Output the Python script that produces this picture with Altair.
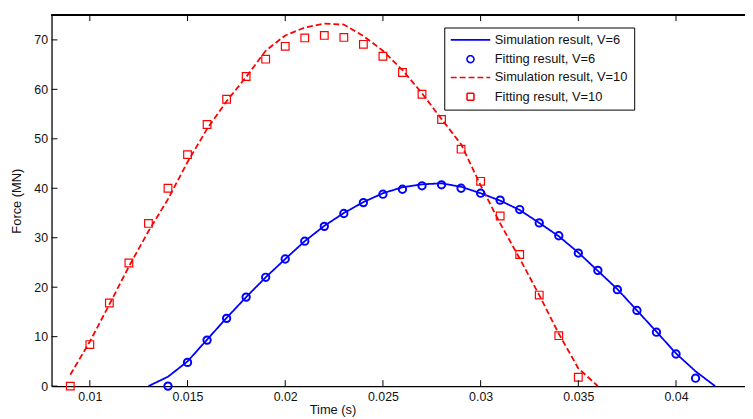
import altair as alt
import pandas as pd

S6 = "Simulation result, V=6"
F6 = "Fitting result, V=6"
S10 = "Simulation result, V=10"
F10 = "Fitting result, V=10"
ORDER = [S6, F6, S10, F10]

# Simulation, V=6
sim6_t = [0.013, 0.014, 0.015, 0.016, 0.017, 0.018, 0.019, 0.020, 0.021, 0.022,
          0.023, 0.024, 0.025, 0.026, 0.027, 0.028, 0.029, 0.030, 0.031, 0.032,
          0.033, 0.034, 0.035, 0.036, 0.037, 0.038, 0.039, 0.040, 0.041, 0.042]
sim6_f = [0.0, 1.9, 5.0, 9.4, 13.8, 18.0, 22.0, 25.7, 29.3, 32.4,
          35.0, 37.2, 39.0, 40.2, 40.8, 41.0, 40.3, 39.0, 37.5, 35.6,
          33.0, 30.3, 27.0, 23.3, 19.6, 15.3, 11.0, 6.6, 3.0, 0.0]

# Fitting, V=6
fit6_t = [0.014, 0.015, 0.016, 0.017, 0.018, 0.019, 0.020, 0.021, 0.022, 0.023,
          0.024, 0.025, 0.026, 0.027, 0.028, 0.029, 0.030, 0.031, 0.032, 0.033,
          0.034, 0.035, 0.036, 0.037, 0.038, 0.039, 0.040, 0.041]
fit6_f = [0.0, 4.8, 9.3, 13.7, 18.0, 22.0, 25.7, 29.3, 32.3, 34.9,
          37.1, 38.8, 39.8, 40.5, 40.7, 40.0, 39.0, 37.6, 35.7, 33.0,
          30.4, 26.9, 23.4, 19.5, 15.3, 10.9, 6.5, 1.6]

# Simulation, V=10
sim10_t = [0.009, 0.010, 0.011, 0.012, 0.013, 0.014, 0.015, 0.016, 0.017, 0.018,
           0.019, 0.020, 0.021, 0.022, 0.023, 0.024, 0.025, 0.026, 0.027, 0.028,
           0.029, 0.030, 0.031, 0.032, 0.033, 0.034, 0.035, 0.036]
sim10_f = [2.3, 9.0, 16.5, 24.2, 31.3, 37.8, 45.3, 52.0, 57.6, 62.5,
           67.8, 70.9, 72.5, 73.3, 73.1, 70.8, 67.8, 63.9, 59.2, 54.0,
           48.9, 40.6, 32.9, 25.8, 18.4, 10.6, 3.6, 0.0]

# Fitting, V=10
fit10_t = [0.009, 0.010, 0.011, 0.012, 0.013, 0.014, 0.015, 0.016, 0.017, 0.018,
           0.019, 0.020, 0.021, 0.022, 0.023, 0.024, 0.025, 0.026, 0.027, 0.028,
           0.029, 0.030, 0.031, 0.032, 0.033, 0.034, 0.035]
fit10_f = [0.0, 8.4, 16.8, 24.9, 32.9, 40.0, 46.8, 52.9, 58.0, 62.6,
           66.1, 68.7, 70.4, 70.9, 70.5, 69.1, 66.7, 63.4, 59.0, 53.9,
           47.9, 41.4, 34.4, 26.6, 18.4, 10.2, 1.8]

x_ticks = [0.01, 0.015, 0.02, 0.025, 0.03, 0.035, 0.04]
y_ticks = [0, 10, 20, 30, 40, 50, 60, 70]

W, H = 701, 375
FONT = "Liberation Sans"

lines_df = pd.concat([
    pd.DataFrame({"t": sim6_t, "f": sim6_f, "series": S6}),
    pd.DataFrame({"t": sim10_t, "f": sim10_f, "series": S10}),
])
pts6_df = pd.DataFrame({"t": fit6_t, "f": fit6_f, "series": F6})
pts10_df = pd.DataFrame({"t": fit10_t, "f": fit10_f, "series": F10})
xt_df = pd.DataFrame({"t": x_ticks})
yt_df = pd.DataFrame({"f": y_ticks})

xscale = alt.Scale(domain=[0.00804, 0.04353], nice=False, zero=False)
yscale = alt.Scale(domain=[0, 75], nice=False, zero=False)

LINE_PATH = "M-5.7,0H5.7"
color_scale = alt.Scale(domain=ORDER, range=["#0000ff", "#0000ff", "#ff0000", "#ff0000"])
shape_scale = alt.Scale(domain=ORDER, range=[LINE_PATH, "circle", LINE_PATH, "square"])
dash_scale = alt.Scale(domain=ORDER, range=[[1, 0], [1, 0], [6, 3], [1, 0]])

legend = alt.Legend(
    title=None, orient="none", legendX=397, legendY=12.5,
    strokeColor="black", fillColor="white", padding=6,
    labelFont=FONT, labelFontSize=13, labelColor="#111",
    symbolSize=49, symbolStrokeWidth=1.6, symbolOffset=14, labelOffset=18,
    rowPadding=4.5, symbolFillColor="transparent",
)

x_axis = alt.Axis(values=x_ticks, format="~g", tickSize=0, grid=False,
                  title="Time (s)", titleX=284, titleY=28, titleBaseline="alphabetic",
                  titleAlign="center", labelPadding=5)
y_axis = alt.Axis(values=y_ticks, tickSize=0, grid=False, title="Force (MN)",
                  titlePadding=10, labelPadding=4)

x_enc = alt.X("t:Q", scale=xscale, axis=x_axis)
y_enc = alt.Y("f:Q", scale=yscale, axis=y_axis)

lines = alt.Chart(lines_df).mark_line(strokeWidth=1.8).encode(
    x=x_enc, y=y_enc,
    color=alt.Color("series:N", scale=color_scale, legend=legend),
    strokeDash=alt.StrokeDash("series:N", scale=dash_scale, legend=legend),
)

circles = alt.Chart(pts6_df).mark_point(filled=False, size=55, strokeWidth=2, opacity=1).encode(
    x=x_enc, y=y_enc,
    color=alt.Color("series:N", scale=color_scale, legend=legend),
    shape=alt.Shape("series:N", scale=shape_scale, legend=legend),
)

squares = alt.Chart(pts10_df).mark_point(filled=False, size=60, strokeWidth=1.2, opacity=1).encode(
    x=x_enc, y=y_enc,
    color=alt.Color("series:N", scale=color_scale, legend=legend),
    shape=alt.Shape("series:N", scale=shape_scale, legend=legend),
)

bottom_ticks = alt.Chart(xt_df).mark_rule(color="black", strokeWidth=1).encode(
    x=x_enc, y=alt.value(H), y2=alt.value(H - 6))
top_ticks = alt.Chart(xt_df).mark_rule(color="black", strokeWidth=1).encode(
    x=x_enc, y=alt.value(0), y2=alt.value(6))
left_ticks = alt.Chart(yt_df).mark_rule(color="black", strokeWidth=1).encode(
    y=y_enc, x=alt.value(0), x2=alt.value(6))
top_line = alt.Chart(xt_df).mark_rule(color="black", strokeWidth=1.3).encode(
    x=alt.value(0), x2=alt.value(W), y=alt.value(0))

chart = alt.layer(lines, squares, circles, bottom_ticks, top_ticks, left_ticks, top_line).properties(
    width=W, height=H,
    autosize=alt.AutoSizeParams(type="none"),
    padding={"left": 44, "top": 5, "right": 0, "bottom": 30},
).configure_view(stroke=None).configure_axis(
    labelFont=FONT, labelFontSize=12.5, labelColor="#111",
    titleFont=FONT, titleFontSize=13, titleFontWeight="normal", titleColor="#111",
    domainColor="black", domainWidth=1.3,
)

chart.save("out.html", embed_options={"renderer": "svg", "actions": False})
